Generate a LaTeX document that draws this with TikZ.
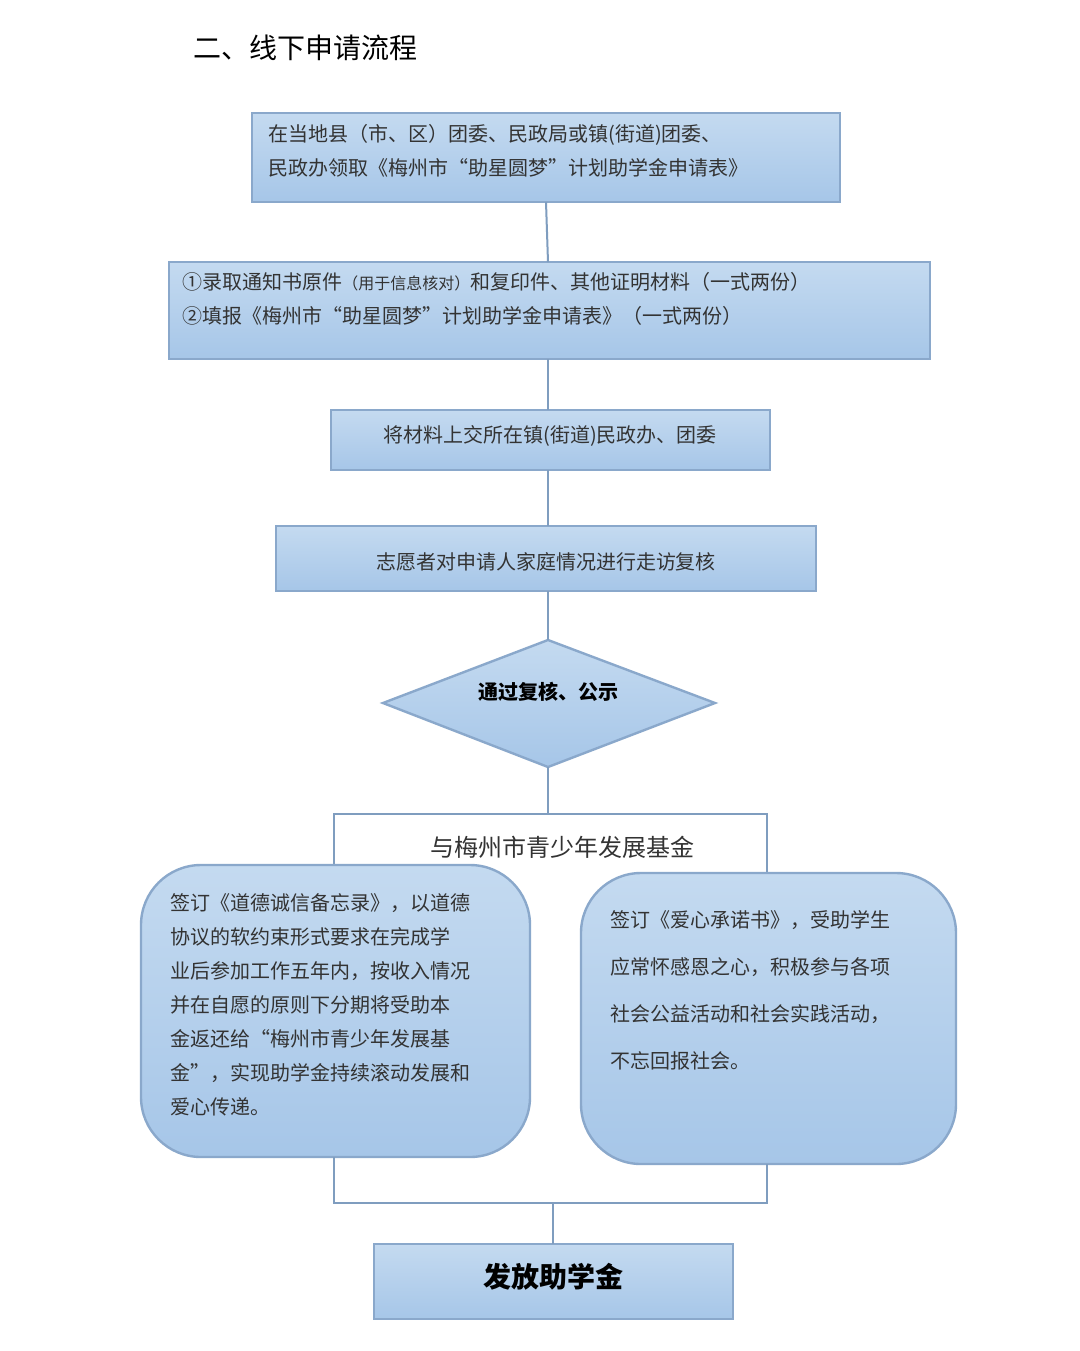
\documentclass[tikz,border=0pt]{standalone}
\usepackage{fontspec}
\setmainfont{Noto Sans CJK SC}
\usetikzlibrary{shapes.geometric}
\definecolor{bfill}{HTML}{A6C6E8}
\definecolor{btop}{HTML}{C4DAF0}
\definecolor{bline}{HTML}{8AA8CB}
\definecolor{cline}{HTML}{7F9DBF}
\tikzset{
 bx/.style={draw=bline,line width=1.2pt,top color=btop,bottom color=bfill,inner sep=0pt},
 rbx/.style={draw=bline,line width=1.2pt,top color=btop,bottom color=bfill,rounded corners=30pt},
 ln/.style={draw=cline,line width=1pt},
 tx/.style={font=\fontsize{10}{17}\selectfont,text=black!80,align=left,anchor=north west,inner sep=0pt},
}
\begin{document}
\begin{tikzpicture}[x=0.5pt,y=-0.5pt]
\useasboundingbox (0,0) rectangle (1080,1351);
\fill[white] (0,0) rectangle (1080,1351);
\node[anchor=west,font=\fontsize{14}{16}\selectfont] (title) at (186,48) {二、线下申请流程};
% boxes
\path[bx] (252,113) rectangle (840,202); \coordinate (b1t) at (546,113); \coordinate (b1b) at (546,202);
\node[tx] (t1) at (268,124) {在当地县（市、区）团委、民政局或镇(街道)团委、\\民政办领取《梅州市“助星圆梦”计划助学金申请表》};
\path[bx] (169,262) rectangle (930,359); \coordinate (b2t) at (548,262); \coordinate (b2b) at (548,359);
\node[tx] (t2) at (182,272) {①录取通知书原件{\fontsize{8}{10}\selectfont（用于信息核对）}和复印件、其他证明材料（一式两份）\\②填报《梅州市“助星圆梦”计划助学金申请表》（一式两份）};
\path[bx] (331,410) rectangle (770,470); \coordinate (b3t) at (548,410); \coordinate (b3b) at (548,470);
\node[font=\fontsize{10}{12}\selectfont,text=black!80] (t3) at (550,436) {将材料上交所在镇(街道)民政办、团委};
\path[bx] (276,526) rectangle (816,591); \coordinate (b4t) at (548,526); \coordinate (b4b) at (548,591);
\node[font=\fontsize{10}{12}\selectfont,text=black!80] (t4) at (546,562) {志愿者对申请人家庭情况进行走访复核};
\path[bx] (383,703) -- (548,640) -- (715,703) -- (548,767) -- cycle;
\coordinate (dt) at (548,640); \coordinate (db) at (548,767);
\node[font=\bfseries\fontsize{10}{12}\selectfont] (dtx) at (548,692) {通过复核、公示};
\draw[ln] (b1b) -- (b2t); \draw[ln] (b2b) -- (b3t); \draw[ln] (b3b) -- (b4t); \draw[ln] (b4b) -- (dt);
% bracket
\coordinate (bt) at (548,814); \coordinate (bl) at (334,814); \coordinate (br) at (767,814);
\coordinate (bld) at (334,870); \coordinate (brd) at (767,875);
\draw[ln] (db) -- (bt);
\draw[ln] (bld) -- (bl) -- (br) -- (brd);
\node[font=\fontsize{12}{14}\selectfont,text=black!80] (fund) at (562,847) {与梅州市青少年发展基金};
% rounded boxes
\path[rbx] (141,865) rectangle (530,1157);
\node[tx,font=\fontsize{10}{17}\selectfont] (lt) at (170,893) {签订《道德诚信备忘录》，以道德\\协议的软约束形式要求在完成学\\业后参加工作五年内，按收入情况\\并在自愿的原则下分期将受助本\\金返还给“梅州市青少年发展基\\金”，实现助学金持续滚动发展和\\爱心传递。};
\path[rbx] (581,873) rectangle (956,1164);
\node[tx,font=\fontsize{10}{23.6}\selectfont] (rt) at (610,910) {签订《爱心承诺书》，受助学生\\应常怀感恩之心，积极参与各项\\社会公益活动和社会实践活动，\\不忘回报社会。};
% bottom bracket
\coordinate (ll) at (334,1157); \coordinate (rr) at (767,1164);
\coordinate (lb) at (334,1203); \coordinate (rb) at (767,1203); \coordinate (mb) at (553,1203);
\draw[ln] (ll) -- (lb) -- (rb) -- (rr);
\path[bx] (374,1244) rectangle (733,1319); \coordinate (ft) at (553,1244);
\draw[ln] (mb) -- (ft);
\node[font=\bfseries\fontsize{14}{16}\selectfont] (final) at (553,1277) {发放助学金};
\end{tikzpicture}
\end{document}
